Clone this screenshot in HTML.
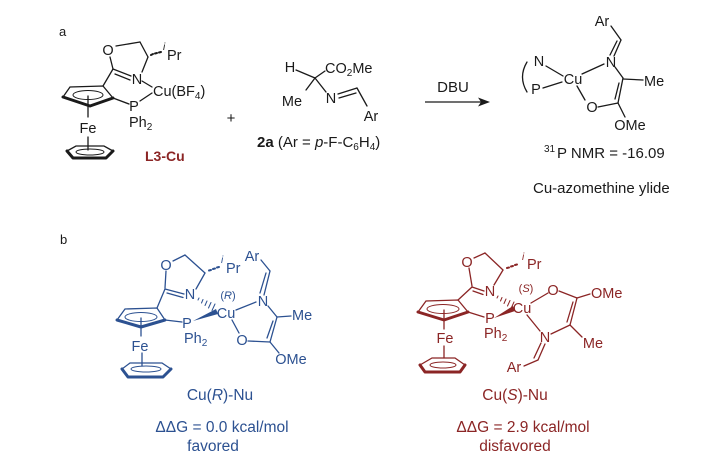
<!DOCTYPE html>
<html><head><meta charset="utf-8"><style>
html,body{margin:0;padding:0;background:#fff;}
svg{display:block;}
text{font-family:"Liberation Sans",Arial,sans-serif;}
.k{fill:#1a1a1a;font-size:14.5px;}
.bl{fill:#2c5191;font-size:14.5px;}
.rd{fill:#8b2525;font-size:14.5px;}
</style></head><body>
<svg width="728" height="463" viewBox="0 0 728 463" xmlns="http://www.w3.org/2000/svg">
<rect width="728" height="463" fill="#fff"/>

<!-- ===== Part a ===== -->
<text x="59" y="36" class="k" style="font-size:13px">a</text>

<g stroke="#1a1a1a" stroke-width="1.3" fill="none" stroke-linecap="round">
  <!-- upper Cp -->
  <polyline points="63,97 70,87 103,86 113,98"/>
  <polyline points="113,98 90,106 63,97" stroke-width="3" stroke-linejoin="round"/>
  <ellipse cx="88" cy="95" rx="15" ry="4.5" stroke-width="1"/>
  <line x1="88" y1="96" x2="88" y2="117"/>
  <line x1="88" y1="137" x2="88" y2="150"/>
  <!-- lower Cp -->
  <polyline points="67,151 76,146 104,146 113,151"/>
  <polyline points="113,151 106,158 73,158 67,151" stroke-width="3" stroke-linejoin="round"/>
  <ellipse cx="90" cy="152" rx="14" ry="3" stroke-width="1"/>
  <!-- oxazoline -->
  <line x1="103" y1="86" x2="113" y2="69"/>
  <line x1="113" y1="69" x2="110" y2="57"/>
  <line x1="116" y1="46" x2="140" y2="42"/>
  <line x1="140" y1="42" x2="148" y2="57"/>
  <line x1="148" y1="57" x2="142" y2="72"/>
  <line x1="113" y1="69" x2="131" y2="76"/>
  <line x1="115" y1="74" x2="130" y2="80"/>
  <line x1="151" y1="55" x2="153" y2="54" stroke-width="2"/>
  <line x1="155" y1="53.5" x2="157" y2="53" stroke-width="2"/>
  <line x1="159" y1="52.5" x2="161" y2="52" stroke-width="2"/>
  <line x1="113" y1="98" x2="129" y2="104"/>
  <line x1="140" y1="101" x2="152" y2="93"/>
  <line x1="142" y1="81" x2="152" y2="87"/>
</g>
<text x="108" y="55" class="k" text-anchor="middle">O</text>
<text x="137" y="84" class="k" text-anchor="middle">N</text>
<text x="163" y="50" class="k" style="font-size:10px;font-style:italic">i</text>
<text x="167" y="60" class="k">Pr</text>
<text x="134" y="111" class="k" text-anchor="middle">P</text>
<text x="153" y="96" class="k">Cu(BF<tspan dy="3" style="font-size:10px">4</tspan><tspan dy="-3">)</tspan></text>
<text x="129" y="127" class="k">Ph<tspan dy="3" style="font-size:10px">2</tspan></text>
<text x="88" y="133" class="k" text-anchor="middle">Fe</text>
<text x="145" y="161" class="rd" style="font-weight:bold;font-size:14px">L3-Cu</text>

<text x="231" y="123" class="k" text-anchor="middle" style="font-size:15px">+</text>

<!-- imine 2a -->
<g stroke="#1a1a1a" stroke-width="1.3" fill="none" stroke-linecap="round">
  <line x1="296" y1="70" x2="315" y2="78"/>
  <line x1="315" y1="78" x2="325" y2="71"/>
  <line x1="315" y1="78" x2="306" y2="90"/>
  <line x1="315" y1="78" x2="326" y2="92"/>
  <line x1="338" y1="94" x2="357" y2="88"/>
  <line x1="339" y1="98" x2="356" y2="93"/>
  <line x1="357" y1="88" x2="367" y2="106"/>
</g>
<text x="290" y="72" class="k" text-anchor="middle">H</text>
<text x="325" y="73" class="k">CO<tspan dy="3" style="font-size:10px">2</tspan><tspan dy="-3">Me</tspan></text>
<text x="292" y="106" class="k" text-anchor="middle">Me</text>
<text x="331" y="103" class="k" text-anchor="middle">N</text>
<text x="371" y="121" class="k" text-anchor="middle">Ar</text>
<text x="257" y="147" class="k" style="font-size:15px"><tspan style="font-weight:bold">2a</tspan> (Ar = <tspan style="font-style:italic">p</tspan>-F-C<tspan dy="3" style="font-size:10px">6</tspan><tspan dy="-3">H</tspan><tspan dy="3" style="font-size:10px">4</tspan><tspan dy="-3">)</tspan></text>

<!-- arrow -->
<text x="453" y="92" class="k" text-anchor="middle" style="font-size:15px">DBU</text>
<line x1="425" y1="102" x2="482" y2="102" stroke="#1a1a1a" stroke-width="1.3"/>
<polygon points="490,102 478,97.5 481,102 478,106.5" fill="#1a1a1a"/>

<!-- product -->
<g stroke="#1a1a1a" stroke-width="1.3" fill="none" stroke-linecap="round">
  <line x1="611" y1="26" x2="621" y2="40"/>
  <line x1="621" y1="40" x2="614" y2="56"/>
  <line x1="617" y1="41" x2="610" y2="55"/>
  <path d="M527,62 Q518,77 527,92"/>
  <line x1="546" y1="66" x2="563" y2="76"/>
  <line x1="543" y1="88" x2="562" y2="82"/>
  <line x1="582" y1="74" x2="604" y2="64"/>
  <line x1="577" y1="86" x2="585" y2="100"/>
  <line x1="615" y1="67" x2="623" y2="78"/>
  <line x1="623" y1="79" x2="643" y2="80"/>
  <line x1="623" y1="78" x2="618" y2="103"/>
  <line x1="619" y1="83" x2="615" y2="99"/>
  <line x1="598" y1="107" x2="618" y2="103"/>
  <line x1="618" y1="103" x2="625" y2="117"/>
</g>
<text x="602" y="26" class="k" text-anchor="middle">Ar</text>
<text x="611" y="67" class="k" text-anchor="middle">N</text>
<text x="539" y="66" class="k" text-anchor="middle">N</text>
<text x="536" y="94" class="k" text-anchor="middle">P</text>
<text x="573" y="84" class="k" text-anchor="middle">Cu</text>
<text x="592" y="112" class="k" text-anchor="middle">O</text>
<text x="644" y="86" class="k">Me</text>
<text x="630" y="130" class="k" text-anchor="middle">OMe</text>
<text x="544" y="152" class="k" style="font-size:10px">31</text>
<text x="557" y="158" class="k" style="font-size:15px">P NMR = -16.09</text>
<text x="533" y="193" class="k" style="font-size:15px">Cu-azomethine ylide</text>

<!-- ===== Part b ===== -->
<text x="60" y="244" class="k" style="font-size:13px">b</text>

<!-- blue complex -->
<g stroke="#2c5191" stroke-width="1.3" fill="none" stroke-linecap="round">
  <polyline points="117,320 125,309 157,308 165,320"/>
  <polyline points="165,320 141,327 117,320" stroke-width="3" stroke-linejoin="round"/>
  <ellipse cx="141" cy="317" rx="16" ry="4.5" stroke-width="1"/>
  <line x1="141" y1="318" x2="141" y2="336"/>
  <line x1="142" y1="353" x2="142" y2="366"/>
  <polyline points="122,369 130,363 162,363 171,369"/>
  <polyline points="171,369 163,377 128,377 122,369" stroke-width="3" stroke-linejoin="round"/>
  <ellipse cx="146" cy="369" rx="15" ry="3" stroke-width="1"/>
  <line x1="157" y1="308" x2="165" y2="289"/>
  <line x1="166" y1="271" x2="165" y2="288"/>
  <line x1="173" y1="261" x2="185" y2="255"/>
  <line x1="185" y1="255" x2="205" y2="273"/>
  <line x1="205" y1="273" x2="196" y2="289"/>
  <line x1="165" y1="289" x2="184" y2="294"/>
  <line x1="167" y1="293" x2="183" y2="297.5"/>
  <line x1="209" y1="270.5" x2="211" y2="270" stroke-width="2"/>
  <line x1="213" y1="269" x2="215" y2="268.5" stroke-width="2"/>
  <line x1="217" y1="267.5" x2="219" y2="267" stroke-width="2"/>
  <!-- hashed N-Cu -->
  <line x1="199" y1="298" x2="198" y2="300" stroke-width="1"/>
  <line x1="203" y1="299.5" x2="201.5" y2="303" stroke-width="1"/>
  <line x1="207" y1="301" x2="205" y2="305.5" stroke-width="1"/>
  <line x1="211" y1="302.5" x2="208.5" y2="308" stroke-width="1"/>
  <line x1="215" y1="304" x2="212" y2="310.5" stroke-width="1"/>
  <line x1="165" y1="320" x2="182" y2="322"/>
  <line x1="261" y1="260" x2="270" y2="271"/>
  <line x1="270" y1="271" x2="264" y2="295"/>
  <line x1="266" y1="273" x2="260" y2="293"/>
  <line x1="236" y1="310" x2="256" y2="302"/>
  <line x1="268" y1="306" x2="277" y2="317"/>
  <line x1="277" y1="317" x2="291" y2="316"/>
  <line x1="277" y1="317" x2="270" y2="342"/>
  <line x1="273" y1="321" x2="267" y2="338"/>
  <line x1="232" y1="320" x2="239" y2="333"/>
  <line x1="248" y1="341" x2="270" y2="342"/>
  <line x1="270" y1="342" x2="279" y2="353"/>
</g>
<polygon points="193,321 216,309 218,314" fill="#2c5191"/>
<text x="166" y="270" class="bl" text-anchor="middle">O</text>
<text x="190" y="299" class="bl" text-anchor="middle">N</text>
<text x="221" y="263" class="bl" style="font-size:10px;font-style:italic">i</text>
<text x="226" y="273" class="bl">Pr</text>
<text x="228" y="299" class="bl" text-anchor="middle" style="font-size:11px">(<tspan style="font-style:italic">R</tspan>)</text>
<text x="226" y="318" class="bl" text-anchor="middle">Cu</text>
<text x="187" y="328" class="bl" text-anchor="middle">P</text>
<text x="184" y="343" class="bl">Ph<tspan dy="3" style="font-size:10px">2</tspan></text>
<text x="140" y="351" class="bl" text-anchor="middle">Fe</text>
<text x="252" y="261" class="bl" text-anchor="middle">Ar</text>
<text x="263" y="306" class="bl" text-anchor="middle">N</text>
<text x="292" y="320" class="bl">Me</text>
<text x="242" y="345" class="bl" text-anchor="middle">O</text>
<text x="291" y="364" class="bl" text-anchor="middle">OMe</text>

<!-- red complex -->
<g stroke="#8b2525" stroke-width="1.3" fill="none" stroke-linecap="round">
  <polyline points="418,312 426,301 458,300 468,312"/>
  <polyline points="468,312 444,320 418,312" stroke-width="3" stroke-linejoin="round"/>
  <ellipse cx="443" cy="309" rx="16" ry="4.5" stroke-width="1"/>
  <line x1="444" y1="310" x2="444" y2="329"/>
  <line x1="444" y1="346" x2="444" y2="358"/>
  <polyline points="420,365 432,358 455,358 465,365"/>
  <polyline points="465,365 460,372 425,372 420,365" stroke-width="3" stroke-linejoin="round"/>
  <ellipse cx="443" cy="365" rx="13" ry="3" stroke-width="1"/>
  <line x1="458" y1="300" x2="472" y2="287"/>
  <line x1="469" y1="268" x2="472" y2="286"/>
  <line x1="474" y1="258" x2="485" y2="253"/>
  <line x1="485" y1="253" x2="503" y2="270"/>
  <line x1="503" y1="270" x2="494" y2="285"/>
  <line x1="472" y1="287" x2="484" y2="291"/>
  <line x1="473" y1="291" x2="483" y2="294.5"/>
  <line x1="507" y1="268" x2="509" y2="267.5" stroke-width="2"/>
  <line x1="511" y1="266.5" x2="513" y2="266" stroke-width="2"/>
  <line x1="515" y1="265" x2="517" y2="264.5" stroke-width="2"/>
  <!-- hashed N-Cu -->
  <line x1="498" y1="296" x2="497" y2="298" stroke-width="1"/>
  <line x1="502" y1="297.5" x2="500.5" y2="301" stroke-width="1"/>
  <line x1="506" y1="299" x2="504" y2="303.5" stroke-width="1"/>
  <line x1="510" y1="300.5" x2="507.5" y2="306" stroke-width="1"/>
  <line x1="514" y1="302" x2="511" y2="308.5" stroke-width="1"/>
  <line x1="468" y1="312" x2="484" y2="317"/>
  <line x1="531" y1="303" x2="548" y2="293"/>
  <line x1="559" y1="291" x2="577" y2="298"/>
  <line x1="577" y1="298" x2="590" y2="294"/>
  <line x1="577" y1="298" x2="570" y2="325"/>
  <line x1="573" y1="302" x2="567" y2="322"/>
  <line x1="570" y1="325" x2="582" y2="337"/>
  <line x1="570" y1="325" x2="551" y2="334"/>
  <line x1="527" y1="315" x2="540" y2="331"/>
  <line x1="545" y1="344" x2="538" y2="360"/>
  <line x1="541" y1="343" x2="534" y2="358"/>
  <line x1="538" y1="360" x2="524" y2="366"/>
</g>
<polygon points="494,318 513,306 515,311" fill="#8b2525"/>
<text x="467" y="267" class="rd" text-anchor="middle">O</text>
<text x="490" y="296" class="rd" text-anchor="middle">N</text>
<text x="522" y="260" class="rd" style="font-size:10px;font-style:italic">i</text>
<text x="527" y="269" class="rd">Pr</text>
<text x="526" y="292" class="rd" text-anchor="middle" style="font-size:11px">(<tspan style="font-style:italic">S</tspan>)</text>
<text x="522" y="313" class="rd" text-anchor="middle">Cu</text>
<text x="490" y="323" class="rd" text-anchor="middle">P</text>
<text x="484" y="338" class="rd">Ph<tspan dy="3" style="font-size:10px">2</tspan></text>
<text x="445" y="343" class="rd" text-anchor="middle">Fe</text>
<text x="553" y="295" class="rd" text-anchor="middle">O</text>
<text x="591" y="298" class="rd">OMe</text>
<text x="593" y="348" class="rd" text-anchor="middle">Me</text>
<text x="545" y="342" class="rd" text-anchor="middle">N</text>
<text x="514" y="372" class="rd" text-anchor="middle">Ar</text>

<!-- captions -->
<text x="220" y="400" class="bl" text-anchor="middle" style="font-size:15.5px">Cu(<tspan style="font-style:italic">R</tspan>)-Nu</text>
<text x="222" y="432" class="bl" text-anchor="middle" style="font-size:15.5px">ΔΔG = 0.0 kcal/mol</text>
<text x="213" y="451" class="bl" text-anchor="middle" style="font-size:15.5px">favored</text>
<text x="515" y="400" class="rd" text-anchor="middle" style="font-size:15.5px">Cu(<tspan style="font-style:italic">S</tspan>)-Nu</text>
<text x="523" y="432" class="rd" text-anchor="middle" style="font-size:15.5px">ΔΔG = 2.9 kcal/mol</text>
<text x="515" y="451" class="rd" text-anchor="middle" style="font-size:15.5px">disfavored</text>
</svg>
</body></html>
